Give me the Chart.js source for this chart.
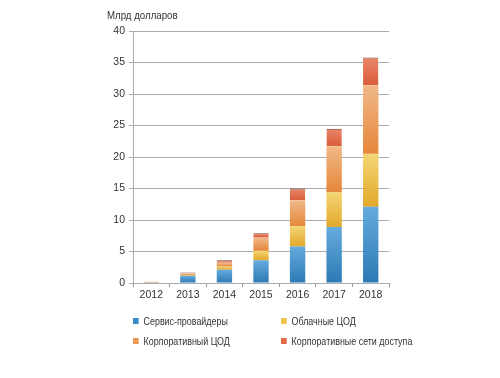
<!DOCTYPE html>
<html>
<head>
<meta charset="utf-8">
<script src="https://cdn.jsdelivr.net/npm/chart.js@4.4.0/dist/chart.umd.min.js"></script>
<style>
    body { margin: 0; background: #fff; }
    .wrap { position: relative; width: 500px; height: 378px; }
    .ylabel { position: absolute; left: 107px; top: 9px; font: 11px "Liberation Sans", Arial, sans-serif; color: #333; transform: scaleX(0.88); transform-origin: 0 0; white-space: nowrap; }
    .legend { position: absolute; left: 133px; top: 315px; width: 300px; font: 11px "Liberation Sans", Arial, sans-serif; color: #333; }
    .legend span.item { position: absolute; white-space: nowrap; transform: scaleX(0.81); transform-origin: 0 0; }
    .legend i { display: inline-block; width: 7px; height: 6px; margin-right: 6px; vertical-align: 1px; }
</style>
</head>
<body>
<div class="wrap">
    <canvas id="myChart" width="500" height="378"></canvas>
    <div class="ylabel">Млрд долларов</div>
    <div class="legend" id="legend"></div>
</div>
<script>
    // данные
    var years = ['2012', '2013', '2014', '2015', '2016', '2017', '2018'];
    var seriesNames = ['Сервис-провайдеры', 'Облачные ЦОД', 'Корпоративный ЦОД', 'Корпоративные сети доступа'];
    var serviceProviders = [0.05, 1.15, 2.1, 3.6, 5.8, 8.9, 12.1];
    var cloudDC = [0.03, 0.1, 0.5, 1.5, 3.2, 5.5, 8.4];
    var corpDC = [0.07, 0.25, 0.6, 2.1, 4.1, 7.3, 10.9];
    var corpAccess = [0.05, 0.15, 0.4, 0.7, 1.9, 2.8, 4.4];
    var yTicks = [0, 5, 10, 15, 20, 25, 30, 35, 40];

    var allSeries = [serviceProviders, cloudDC, corpDC, corpAccess];
    // цвета: светлый верх / тёмный низ
    var colorsTop = ['#65abde', '#f4d574', '#f1b987', '#e9866a'];
    var colorsBottom = ['#2b79b4', '#e1a82a', '#e5863a', '#d95c3a'];
    var legendColors = ['#3a8cc8', '#f0c248', '#ec9a52', '#e06a46'];

    function segmentGradient(ctx, dsIndex) {
        var chart = ctx.chart;
        var y = chart.scales.y;
        if (!y || ctx.dataIndex === undefined) return legendColors[dsIndex];
        var base = 0;
        for (var k = 0; k < dsIndex; k++) base += allSeries[k][ctx.dataIndex];
        var top = base + allSeries[dsIndex][ctx.dataIndex];
        var y0 = y.getPixelForValue(base);
        var y1 = y.getPixelForValue(top);
        if (!isFinite(y0) || !isFinite(y1) || y0 === y1) return legendColors[dsIndex];
        var g = chart.ctx.createLinearGradient(0, y1, 0, y0);
        g.addColorStop(0, colorsTop[dsIndex]);
        g.addColorStop(1, colorsBottom[dsIndex]);
        return g;
    }

    var datasets = allSeries.map(function (arr, i) {
        var last = i === allSeries.length - 1;
        return {
            label: seriesNames[i],
            data: arr,
            backgroundColor: function (c) { return segmentGradient(c, i); },
            borderColor: '#7a3a2a',
            borderWidth: last ? { top: 1, left: 0, right: 0, bottom: 0 } : 0,
            borderSkipped: 'bottom',
            barPercentage: 0.42,
            categoryPercentage: 1
        };
    });

    Chart.defaults.font.family = '"Liberation Sans", Arial, sans-serif';
    Chart.defaults.font.size = 10.5;
    Chart.defaults.color = '#333';

    var ctx = document.getElementById('myChart').getContext('2d');
    var myChart = new Chart(ctx, {
        type: 'bar',
        data: { labels: years, datasets: datasets },
        options: {
            responsive: false,
            animation: false,
            layout: { padding: { left: 103, top: 31, right: 111, bottom: 0 } },
            plugins: { legend: { display: false }, tooltip: { enabled: false } },
            scales: {
                x: {
                    stacked: true,
                    grid: { drawOnChartArea: false, drawTicks: true, tickLength: 4, color: '#999', offset: true },
                    border: { display: false },
                    ticks: { padding: 2, color: '#333' },
                    afterFit: function (s) { s.height = 95; }
                },
                y: {
                    stacked: true,
                    min: 0,
                    max: 40,
                    afterBuildTicks: function (s) { s.ticks = yTicks.map(function (v) { return { value: v }; }); },
                    grid: { color: '#a8acb0', tickLength: 4, lineWidth: 1 },
                    border: { color: '#a8acb0' },
                    ticks: { padding: 4, color: '#333' },
                    afterFit: function (s) { s.width = 30; }
                }
            }
        }
    });

    // легенда 2x2
    var legend = document.getElementById('legend');
    var pos = [[0, 0], [148, 0], [0, 20], [148, 20]];
    seriesNames.forEach(function (name, i) {
        var el = document.createElement('span');
        el.className = 'item';
        el.style.left = pos[i][0] + 'px';
        el.style.top = pos[i][1] + 'px';
        el.innerHTML = '<i style="background:' + legendColors[i] + '"></i>' + name;
        legend.appendChild(el);
    });
</script>
</body>
</html>
